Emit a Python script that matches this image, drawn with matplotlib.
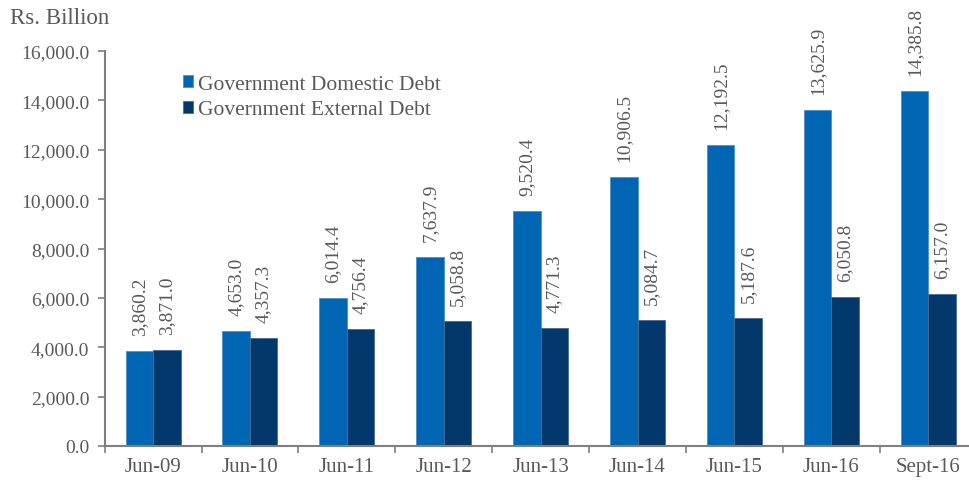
import matplotlib.pyplot as plt
import numpy as np

categories = ["Jun-09", "Jun-10", "Jun-11", "Jun-12", "Jun-13", "Jun-14", "Jun-15", "Jun-16", "Sept-16"]
domestic = [3860.2, 4653.0, 6014.4, 7637.9, 9520.4, 10906.5, 12192.5, 13625.9, 14385.8]
external = [3871.0, 4357.3, 4756.4, 5058.8, 4771.3, 5084.7, 5187.6, 6050.8, 6157.0]
yticks = np.arange(0, 16001, 2000)

blue = "#0066B3"
navy = "#02386B"
grey_text = "#595959"
grey_axis = "#7F7F7F"

plt.rcParams["font.family"] = ["Liberation Serif", "DejaVu Serif"]

fig = plt.figure(figsize=(9.69, 4.85), dpi=100)
ax = fig.add_axes([104.6 / 969, 1 - 447 / 485, 1 - 104.6 / 969, (447 - 52) / 485])

x = np.arange(len(categories))
w = 0.284
b1 = ax.bar(x - w / 2, domestic, w, color=blue, edgecolor="#4F8FC8", linewidth=0.6,
            label="Government Domestic Debt")
b2 = ax.bar(x + w / 2, external, w, color=navy, edgecolor="#4A6A90", linewidth=0.6,
            label="Government External Debt")

# rotated value labels above the bars
for bars, vals in [(b1, domestic), (b2, external)]:
    for rect, v in zip(bars, vals):
        ax.annotate(f"{v:,.1f}", (rect.get_x() + rect.get_width() / 2, v),
                    xytext=(0, 11.5), textcoords="offset points",
                    rotation=90, ha="center", va="bottom",
                    fontsize=14, color=grey_text)

ax.set_xlim(-0.5, (969 - 104.6) / 96.9 - 0.5)
ax.set_ylim(0, 16000)
ax.set_yticks(yticks)
ax.set_yticklabels([f"{t:,.1f}" for t in yticks])
ax.set_xticks(x)
ax.set_xticklabels(categories)
ax.set_xticks(np.arange(-0.5, len(categories) - 0.5, 1), minor=True)
ax.tick_params(axis="x", which="major", length=0, pad=8, labelsize=15, labelcolor=grey_text)
ax.tick_params(axis="x", which="minor", length=5, color=grey_axis, width=1.2)
ax.tick_params(axis="y", length=5, color=grey_axis, width=1.2, pad=6, labelsize=14, labelcolor=grey_text)

for s in ["top", "right"]:
    ax.spines[s].set_visible(False)
for s in ["left", "bottom"]:
    ax.spines[s].set_color(grey_axis)
    ax.spines[s].set_linewidth(1.5)

leg = ax.legend(loc="upper left", bbox_to_anchor=(78 / 864.4, 1 - 24 / 395), frameon=False,
                fontsize=15.5, handlelength=0.5, handleheight=0.5, handletextpad=0.2,
                labelspacing=0.3, borderaxespad=0, borderpad=0)
for t in leg.get_texts():
    t.set_color(grey_text)

fig.text(10 / 969, 1 - 18 / 485, "Rs. Billion", fontsize=16.5, color=grey_text, va="center", ha="left")

fig.savefig("out.png", dpi=100)
